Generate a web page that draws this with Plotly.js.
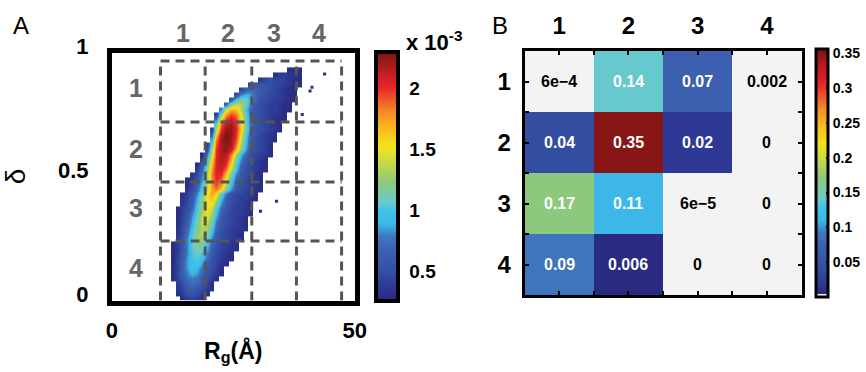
<!DOCTYPE html>
<html><head><meta charset="utf-8">
<script src="https://cdn.plot.ly/plotly-3.0.1.min.js"></script>
<style>html,body{margin:0;padding:0;background:#fff}#chart{width:866px;height:372px}</style>
</head><body><div id="chart"></div>
<script>
// ---------- Panel A data : density of (Rg, delta), in units of 1e-3 ----------
const rgBinWidth = 1;          // Angstrom per density bin
const deltaBinWidth = 0.02;    // delta per density bin
// first Rg bin (Angstrom) of each delta row, rows from delta = 0 upward
const densityRowStart = [14,13,13,13,12,12,12,12,12,12,12,12,13,13,13,13,13,13,13,14,14,14,15,15,15,16,17,17,18,18,19,19,20,20,20,21,21,21,22,23,24,25,26,28,30,33,36];
const densityRows = [
 [0.3,0.4,0.45,0.4,0.3],
 [0.3,0.4,0.5,0.55,0.5,0.4,0.3],
 [0.35,0.45,0.6,0.65,0.6,0.5,0.4,0.3],
 [0.4,0.5,0.65,0.75,0.7,0.55,0.45,0.3],
 [0.3,0.45,0.6,0.75,0.8,0.75,0.6,0.5,0.4,0.3],
 [0.3,0.45,0.65,0.8,0.9,0.85,0.7,0.55,0.45,0.4,0.3],
 [0.3,0.45,0.65,0.85,0.95,0.9,0.75,0.6,0.5,0.4,0.3],
 [0.3,0.45,0.65,0.85,0.95,1.0,0.85,0.65,0.5,0.45,0.35,0.3],
 [0.3,0.45,0.6,0.85,1.0,1.05,0.95,0.75,0.55,0.45,0.4,0.35,0.3],
 [0.3,0.4,0.6,0.8,1.0,1.1,1.0,0.8,0.6,0.5,0.4,0.35,0.3],
 [0.3,0.4,0.55,0.8,1.05,1.15,1.1,0.9,0.65,0.5,0.45,0.4,0.35,0.3],
 [0.3,0.4,0.55,0.8,1.05,1.2,1.2,0.95,0.7,0.55,0.45,0.4,0.35,0.3],
 [0.4,0.55,0.8,1.05,1.25,1.3,1.1,0.8,0.6,0.5,0.45,0.4,0.35,0.3],
 [0.35,0.5,0.75,1.0,1.25,1.35,1.2,0.9,0.65,0.5,0.45,0.4,0.35,0.3],
 [0.35,0.5,0.7,0.95,1.2,1.35,1.3,1.0,0.7,0.55,0.45,0.4,0.4,0.35,0.3],
 [0.3,0.45,0.65,0.9,1.15,1.4,1.35,1.1,0.75,0.55,0.5,0.45,0.4,0.35,0.3],
 [0.3,0.45,0.6,0.85,1.1,1.4,1.45,1.2,0.85,0.6,0.5,0.45,0.4,0.35,0.3],
 [0.3,0.4,0.55,0.8,1.05,1.35,1.5,1.3,0.95,0.65,0.5,0.45,0.4,0.4,0.35,0.3],
 [0.3,0.4,0.5,0.7,1.0,1.3,1.5,1.4,1.05,0.7,0.55,0.45,0.4,0.4,0.35,0.3],
 [0.35,0.45,0.65,0.95,1.25,1.5,1.55,1.2,0.85,0.6,0.5,0.45,0.4,0.35,0.3],
 [0.35,0.45,0.6,0.9,1.2,1.55,1.65,1.4,0.95,0.65,0.5,0.45,0.4,0.4,0.35,0.3],
 [0.3,0.4,0.55,0.8,1.15,1.55,1.75,1.55,1.1,0.75,0.55,0.45,0.45,0.4,0.35,0.3],
 [0.35,0.5,0.7,1.0,1.4,1.75,1.85,1.6,1.2,0.85,0.6,0.5,0.45,0.4,0.35,0.3],
 [0.3,0.45,0.65,0.95,1.35,1.8,1.95,1.8,1.35,0.95,0.65,0.5,0.45,0.4,0.35,0.3],
 [0.3,0.4,0.55,0.85,1.3,1.8,2.0,1.9,1.5,1.05,0.7,0.55,0.45,0.4,0.35,0.3],
 [0.35,0.5,0.8,1.3,1.85,2.05,2.0,1.65,1.15,0.8,0.6,0.5,0.45,0.35,0.3],
 [0.4,0.7,1.2,1.8,2.05,2.1,1.85,1.4,0.95,0.65,0.5,0.45,0.4,0.35,0.3],
 [0.3,0.6,1.1,1.7,2.05,2.15,2.0,1.55,1.05,0.7,0.55,0.45,0.4,0.35,0.3],
 [0.45,0.95,1.6,2.05,2.15,2.1,1.7,1.15,0.8,0.6,0.5,0.45,0.35,0.3],
 [0.3,0.75,1.45,2.0,2.2,2.15,1.85,1.3,0.9,0.65,0.5,0.45,0.4,0.35,0.3],
 [0.5,1.35,2.0,2.2,2.25,2.1,1.7,1.2,0.85,0.6,0.5,0.45,0.4,0.3],
 [0.4,1.15,1.9,2.2,2.25,2.2,1.85,1.3,0.9,0.65,0.5,0.45,0.4,0.3],
 [0.9,1.8,2.2,2.3,2.2,1.95,1.4,0.95,0.65,0.5,0.45,0.4,0.35,0.3],
 [0.7,1.6,2.15,2.3,2.25,2.0,1.5,1.0,0.7,0.55,0.45,0.4,0.35,0.3],
 [0.45,1.3,2.0,2.25,2.25,2.05,1.6,1.1,0.75,0.55,0.5,0.45,0.4,0.35,0.3],
 [1.1,1.9,2.15,2.2,2.0,1.6,1.1,0.75,0.55,0.5,0.45,0.4,0.35,0.3],
 [0.75,1.6,2.0,2.1,1.95,1.55,1.05,0.75,0.55,0.5,0.45,0.4,0.35,0.3,0.3],
 [0.4,1.2,1.75,1.95,1.85,1.5,1.05,0.75,0.55,0.5,0.45,0.4,0.35,0.35,0.3],
 [0.8,1.45,1.7,1.65,1.35,0.95,0.7,0.55,0.5,0.45,0.4,0.4,0.35,0.3,0.3],
 [0.65,1.2,1.4,1.35,1.1,0.8,0.6,0.5,0.45,0.4,0.4,0.35,0.3,0.3],
 [0.55,0.95,1.15,1.1,0.9,0.7,0.55,0.5,0.45,0.4,0.4,0.35,0.3,0.3],
 [0.5,0.8,0.9,0.85,0.7,0.6,0.5,0.45,0.45,0.4,0.35,0.3,0.3],
 [0.45,0.65,0.75,0.7,0.6,0.55,0.5,0.45,0.4,0.35,0.3,0.3],
 [0.4,0.55,0.6,0.55,0.5,0.45,0.45,0.4,0.35,0.3,0.3],
 [0.35,0.45,0.5,0.45,0.45,0.4,0.35,0.3,0.3],
 [0.3,0.4,0.4,0.35,0.35,0.3],
 [0.3,0.3,0.3]
];
// isolated sparse points
const outlierRg    = [43.8, 41.2, 40.8, 39.2, 33.9, 30.6, 31.3];
const outlierDelta = [0.913, 0.86, 0.845, 0.75, 0.40, 0.36, 0.55];
const outlierValue = [0.3, 0.3, 0.3, 0.3, 0.3, 0.3, 0.3];
// state bin edges
const rgEdges    = [10.0, 19.2, 28.8, 38.0, 47.3];
const deltaEdges = [0, 0.240, 0.478, 0.720, 0.966];
const stateLabels = ['1','2','3','4'];
const densityRange = [0.26, 2.3];
const densityTicks = [0.5, 1, 1.5, 2];

// ---------- Panel B data : transition matrix ----------
const transitionStates = [1, 2, 3, 4];
const transitionValues = [
 [0.0006, 0.14, 0.07, 0.002],
 [0.04,   0.35, 0.02, 0],
 [0.17,   0.11, 0.00006, 0],
 [0.09,   0.006, 0, 0]
];
const transitionLabels = [
 ['6e\u22124', '0.14', '0.07', '0.002'],
 ['0.04', '0.35', '0.02', '0'],
 ['0.17', '0.11', '6e\u22125', '0'],
 ['0.09', '0.006', '0', '0']
];
const transitionRange = [0, 0.356];
const transitionTicks = [0.05, 0.1, 0.15, 0.2, 0.25, 0.3, 0.35];
const grayBelow = 0.004;

// ---------- styles ----------
const jetPos = [0, 0.06, 0.12, 0.2, 0.26, 0.31, 0.36, 0.4, 0.48, 0.55, 0.62, 0.7, 0.76, 0.86, 0.93, 1];
const jetCol = ['#29297d','#2d3a96','#3450a3','#3c60b0','#3e78bf','#3cb8e8','#40c2ea','#6ccac8','#8ec97a','#c3d84a','#f4e41c','#f8b420','#f58a27','#e8232a','#b81c1f','#7a1414'];
const jetScale = jetPos.map((p, i) => [p, jetCol[i]]);
const gFrac = grayBelow / transitionRange[1];
const grayScale = [[0, '#f3f3f3'], [gFrac, '#f3f3f3'], [gFrac + 0.0001, jetCol[0]]]
  .concat(jetScale.slice(1).filter(s => s[0] > gFrac));

const W = 866, H = 372;
const FONT = 'Liberation Sans, Arial, Helvetica, sans-serif';

// build density matrix
const nCols = Math.round(50 / rgBinWidth);
const xCenters = [], yCenters = [];
for (let j = 0; j < nCols; j++) xCenters.push(j * rgBinWidth + rgBinWidth / 2);
const zA = densityRows.map((row, i) => {
  yCenters.push(i * deltaBinWidth + deltaBinWidth / 2);
  const r = new Array(nCols).fill(null);
  row.forEach((v, k) => { r[densityRowStart[i] + k] = v; });
  return r;
});

// dashed state grid
const gx = [], gy = [];
rgEdges.forEach(x => { gx.push(x, x, null); gy.push(deltaEdges[0], deltaEdges[4], null); });
deltaEdges.slice(1).forEach(y => { gx.push(rgEdges[0], rgEdges[4], null); gy.push(y, y, null); });

const traces = [
  {type: 'heatmap', x: xCenters, y: yCenters, z: zA, xaxis: 'x', yaxis: 'y', zsmooth: 'best',
   colorscale: jetScale, zmin: densityRange[0], zmax: densityRange[1], hoverinfo: 'skip',
   colorbar: {x: 380 / W, xanchor: 'left', xpad: 0, ypad: 0, y: (H - 301) / H, yanchor: 'bottom',
              lenmode: 'pixels', len: 249, thickness: 22, outlinewidth: 4, outlinecolor: '#000',
              tickvals: densityTicks, ticktext: densityTicks.map(String),
              ticks: 'outside', ticklen: 6, tickcolor: 'rgba(0,0,0,0)',
              tickfont: {family: FONT, size: 19, weight: 'bold', color: '#000'}}},
  {type: 'scatter', mode: 'markers', x: outlierRg, y: outlierDelta, xaxis: 'x', yaxis: 'y',
   marker: {symbol: 'square', size: 3, color: outlierValue, colorscale: jetScale,
            cmin: densityRange[0], cmax: densityRange[1]}, hoverinfo: 'skip'},
  {type: 'scatter', mode: 'lines', x: gx, y: gy, xaxis: 'x', yaxis: 'y',
   line: {color: '#555', width: 3, dash: '9px,6px'}, hoverinfo: 'skip'},
  {type: 'heatmap', x: transitionStates, y: transitionStates, z: transitionValues, xaxis: 'x2', yaxis: 'y2',
   colorscale: grayScale, zmin: transitionRange[0], zmax: transitionRange[1], hoverinfo: 'skip',
   colorbar: {x: 824 / W, xanchor: 'left', xpad: 0, ypad: 0, y: (H - 297) / H, yanchor: 'bottom',
              lenmode: 'pixels', len: 248, thickness: 12, outlinewidth: 3, outlinecolor: '#000',
              tickvals: transitionTicks, ticktext: transitionTicks.map(String),
              ticks: 'inside', ticklen: 3, tickwidth: 2, tickcolor: '#000',
              tickfont: {family: FONT, size: 14, weight: 'bold', color: '#000'}}}
];

const annotations = [];
// state labels panel A
stateLabels.forEach((s, k) => {
  annotations.push({xref: 'x', yref: 'paper', x: (rgEdges[k] + rgEdges[k + 1]) / 2, y: (H - 33) / H,
    xanchor: 'center', yanchor: 'middle',
    text: s, showarrow: false, font: {family: FONT, size: 25, weight: 'bold', color: '#666'}});
  annotations.push({xref: 'x', yref: 'y', x: rgEdges[0] / 2, y: (deltaEdges[3 - k] + deltaEdges[4 - k]) / 2,
    xanchor: 'center', yanchor: 'middle',
    yshift: 3, text: s, showarrow: false, font: {family: FONT, size: 25, weight: 'bold', color: '#666'}});
});
// cell values panel B
transitionValues.forEach((row, r) => row.forEach((v, c) => {
  annotations.push({xref: 'x2', yref: 'y2', x: transitionStates[c], y: transitionStates[r],
    xanchor: 'center', yanchor: 'middle',
    text: transitionLabels[r][c], showarrow: false,
    font: {family: FONT, size: 16, weight: 'bold', color: v >= grayBelow ? '#fff' : '#000'}});
}));
annotations.push({xref: 'paper', yref: 'paper', x: 408 / W, y: (H - 41) / H, xanchor: 'left', yanchor: 'middle',
  text: 'x 10<sup>-3</sup>', showarrow: false, font: {family: FONT, size: 22, weight: 'bold', color: '#000'}});
annotations.push({xref: 'paper', yref: 'paper', x: 21 / W, y: (H - 25) / H, xanchor: 'center', yanchor: 'middle',
  text: 'A', showarrow: false, font: {family: FONT, size: 24, color: '#000'}});
annotations.push({xref: 'paper', yref: 'paper', x: 505 / W, y: (H - 25) / H, xanchor: 'center', yanchor: 'middle',
  text: 'B', showarrow: false, font: {family: FONT, size: 24, color: '#000'}});

const tickFontA = {family: FONT, size: 22, weight: 'bold', color: '#000'};
const layout = {
  width: W, height: H, margin: {l: 0, r: 0, t: 0, b: 0},
  paper_bgcolor: '#fff', plot_bgcolor: '#fff', showlegend: false,
  font: {family: FONT, color: '#000'},
  xaxis: {domain: [113 / W, 358 / W], range: [0, 50], showgrid: false, zeroline: false,
          showline: true, linewidth: 5, linecolor: '#000', mirror: true, ticks: '',
          tickvals: [0, 50], ticktext: ['0', '50'], tickfont: tickFontA, ticklabelstandoff: 6,
          title: {text: 'R<sub>g</sub>(Å)', font: {family: FONT, size: 23, weight: 'bold'}, standoff: 2}},
  yaxis: {domain: [(H - 300.5) / H, (H - 52.5) / H], range: [0, 1], showgrid: false, zeroline: false,
          showline: true, linewidth: 5, linecolor: '#000', mirror: true, ticks: '',
          tickvals: [0, 0.5, 1], ticktext: ['0', '0.5', '1'], tickfont: tickFontA,
          ticklabelstandoff: 14, ticklabelshift: -6,
          title: {text: 'δ', font: {family: FONT, size: 28}, standoff: 32}},
  xaxis2: {domain: [529.5 / W, 809 / W], range: [0.5, 4.5], side: 'top', anchor: 'y2',
           showgrid: false, zeroline: false, showline: true, linewidth: 3, linecolor: '#000', mirror: 'allticks',
           tickvals: transitionStates, ticktext: transitionStates.map(String),
           ticks: 'inside', ticklen: 4, tickwidth: 2, tickcolor: '#000',
           minor: {tickvals: [1.5, 2.5, 3.5], ticks: 'inside', ticklen: 4, tickwidth: 2, tickcolor: '#000'},
           tickfont: {family: FONT, size: 24, weight: 'bold', color: '#000'}, ticklabelstandoff: 4},
  yaxis2: {domain: [(H - 295) / H, (H - 51) / H], range: [4.5, 0.5], anchor: 'x2',
           showgrid: false, zeroline: false, showline: true, linewidth: 3, linecolor: '#000', mirror: 'allticks',
           tickvals: transitionStates, ticktext: transitionStates.map(String),
           ticks: 'inside', ticklen: 4, tickwidth: 2, tickcolor: '#000',
           minor: {tickvals: [1.5, 2.5, 3.5], ticks: 'inside', ticklen: 4, tickwidth: 2, tickcolor: '#000'},
           tickfont: {family: FONT, size: 24, weight: 'bold', color: '#000'}, ticklabelstandoff: 6},
  annotations: annotations
};

Plotly.newPlot('chart', traces, layout, {staticPlot: true, displayModeBar: false});
</script></body></html>
